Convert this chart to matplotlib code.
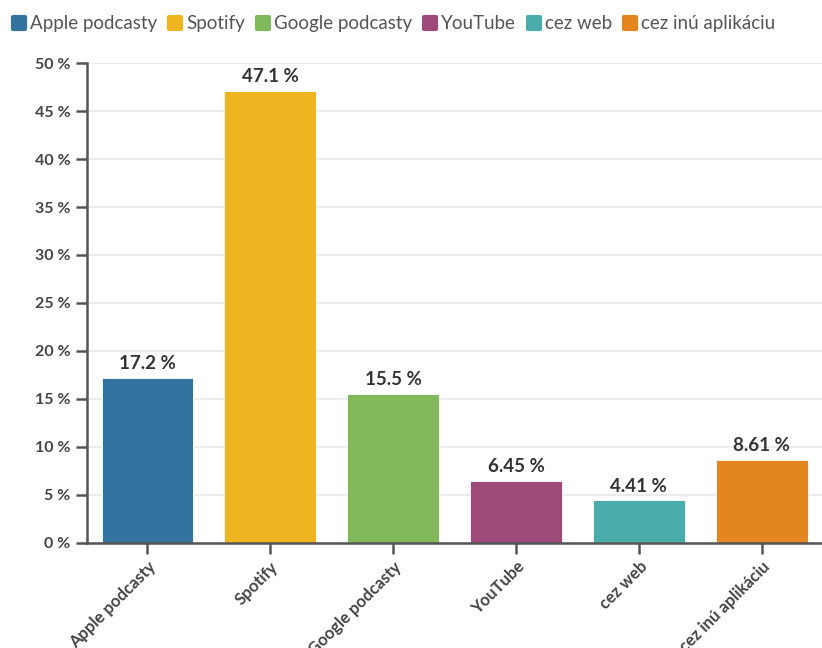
import matplotlib
matplotlib.use("Agg")
import matplotlib.pyplot as plt
from matplotlib.lines import Line2D
from matplotlib.markers import MarkerStyle

plt.rcParams['font.family'] = ['Lato', 'DejaVu Sans']

categories = ["Apple podcasty", "Spotify", "Google podcasty", "YouTube", "cez web", "cez inú aplikáciu"]
values = [17.2, 47.1, 15.5, 6.45, 4.41, 8.61]
labels = ["17.2 %", "47.1 %", "15.5 %", "6.45 %", "4.41 %", "8.61 %"]
colors = ["#33739f", "#efb520", "#80b85a", "#9d4a7b", "#4aadab", "#e3861f"]
yticks = [0, 5, 10, 15, 20, 25, 30, 35, 40, 45, 50]

fig = plt.figure(figsize=(8.22, 6.48), dpi=100)
ax = fig.add_axes([0.106, 0.1625, 0.894, 0.74])

x = range(len(categories))
ax.bar(x, values, width=0.745, color=colors, edgecolor="white", linewidth=0.6, zorder=2)
for i, v in enumerate(values):
    ax.text(i, v + 0.6, labels[i], ha="center", va="bottom", fontsize=13.5,
            fontweight="bold", color="#333333")

ax.set_xlim(-0.49, 5.49)
ax.set_ylim(0, 50)
ax.set_yticks(yticks)
ax.set_yticklabels([f"{t} %" for t in yticks])
ax.set_xticks(list(x))
ax.set_xticklabels(categories, rotation=45, ha="right", rotation_mode="anchor")
ax.grid(axis="y", color="#e8e8e8", linewidth=1.2, zorder=0)
ax.set_axisbelow(True)

for s in ["top", "right"]:
    ax.spines[s].set_visible(False)
for s in ["left", "bottom"]:
    ax.spines[s].set_color("#555555")
    ax.spines[s].set_linewidth(1.8)
ax.tick_params(axis="both", colors="#555555", width=1.8, length=8)
ax.tick_params(axis="y", labelsize=11.5, pad=4)
ax.tick_params(axis="x", labelsize=12)
for lab in ax.get_yticklabels() + ax.get_xticklabels():
    lab.set_fontweight("bold")
    lab.set_color("#444444")

sq = MarkerStyle("s", joinstyle="round")
handles = [Line2D([0], [0], marker=sq, linestyle="", markersize=8, markeredgewidth=3,
                  markerfacecolor=c, markeredgecolor=c) for c in colors]
fig.legend(handles, categories, loc="upper left", bbox_to_anchor=(0.0, 0.992), ncol=6,
           frameon=False, fontsize=13.5, handletextpad=0.15, columnspacing=0.5,
           handlelength=0.9, labelcolor="#555555", borderaxespad=0.15)

fig.savefig("out.png", dpi=100)
